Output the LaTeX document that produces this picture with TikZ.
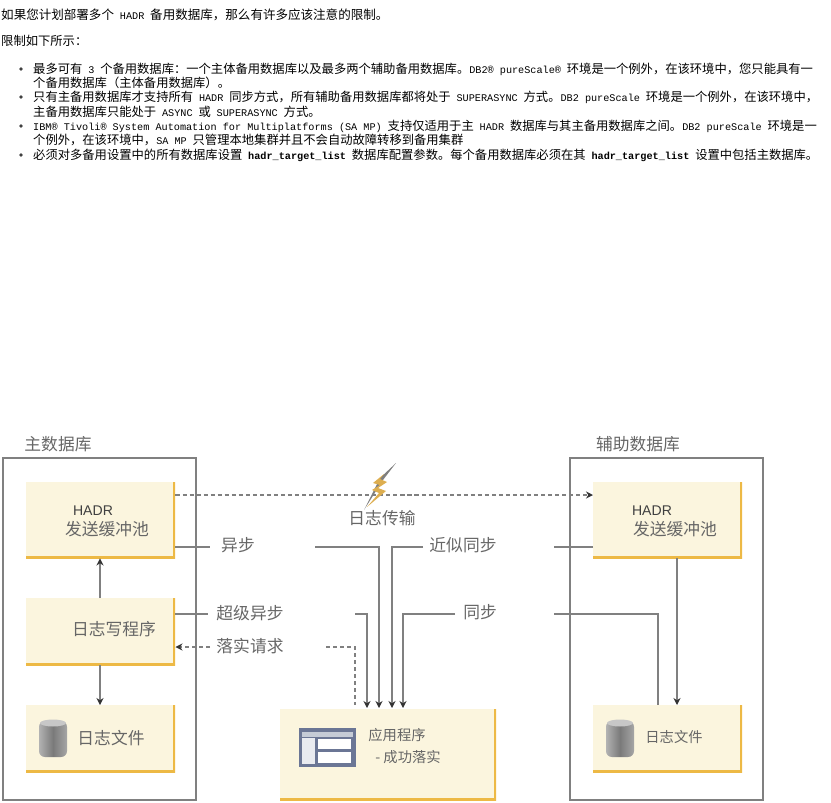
\documentclass[tikz,border=0pt]{standalone}
\usepackage{fontspec}
\setmainfont{Noto Sans CJK SC}
\setmonofont{Liberation Mono}
\setsansfont{Liberation Sans}
\usetikzlibrary{arrows.meta,calc}
\definecolor{boxfill}{HTML}{FBF5DE}
\definecolor{boxedge}{HTML}{EDB945}
\definecolor{linegray}{HTML}{808080}
\definecolor{labelgray}{HTML}{666666}
\definecolor{iconblue}{HTML}{6B7695}
\definecolor{iconbar}{HTML}{C5CBD6}
\definecolor{iconpane}{HTML}{E9EBF0}
\definecolor{boltgold}{HTML}{DDAE50}
\newcommand{\gap}{\hspace{5pt}}
\newcommand{\lat}[1]{{\ttfamily\fontsize{8.7}{8.7}\selectfont #1}}
\newcommand{\latb}[1]{{\ttfamily\bfseries\fontsize{8.7}{8.7}\selectfont #1}}
\tikzset{
  txtline/.style={anchor=west,inner sep=0pt,font=\fontsize{10.5}{10.5}\selectfont},
  dblabel/.style={text=labelgray,inner sep=0pt,font=\fontsize{14.3}{14.3}\selectfont},
  smalllabel/.style={dblabel,font=\fontsize{12.2}{12.2}\selectfont},
  hadrlabel/.style={dblabel,text=black!75,font=\sffamily\fontsize{12}{12}\selectfont},
  dbframe/.style={draw=linegray,line width=1.4pt,anchor=north west,inner sep=0pt},
  logbox/.style={fill=boxfill,anchor=north west,inner sep=0pt,
    path picture={\draw[boxedge,line width=4.5pt]
      (path picture bounding box.south west) -- (path picture bounding box.south east)
      -- (path picture bounding box.north east);}},
  wire/.style={draw=linegray,line width=1.3pt},
  dwire/.style={wire,dash pattern=on 3.5pt off 2.5pt},
  flow/.style={wire,-{Stealth[length=6pt,width=6pt,black!80]}}
}
\newcommand{\logdrum}[2]{%
  \shade[left color=black!30,right color=black!35,middle color=black!52,rounded corners=5pt]
    (#1-14,#2-17) rectangle (#1+14,#2+19);
  \fill[black!22] (#1,#2-15) ellipse (13 and 3.5);
}
\begin{document}
\begin{tikzpicture}[x=0.03cm,y=-0.03cm,>=Stealth]
  \useasboundingbox (0,0) rectangle (831,802);
  % text above the diagram
  \node[txtline,font=\fontsize{10.7}{10.7}\selectfont] (t1) at (1,15) {如果您计划部署多个\gap\lat{HADR}\gap 备用数据库，那么有许多应该注意的限制。};
  \node[txtline] (t2) at (1,41) {限制如下所示：};
  \node[txtline] (l1) at (33,69) {最多可有\gap\lat{3}\gap 个备用数据库：一个主体备用数据库以及最多两个辅助备用数据库。\lat{DB2® pureScale®}\gap 环境是一个例外，在该环境中，您只能具有一};
  \node[txtline] (l1b) at (33,83) {个备用数据库（主体备用数据库）。};
  \node[txtline] (l2) at (33,97) {只有主备用数据库才支持所有\gap\lat{HADR}\gap 同步方式，所有辅助备用数据库都将处于\gap\lat{SUPERASYNC}\gap 方式。\lat{DB2 pureScale}\gap 环境是一个例外，在该环境中，};
  \node[txtline] (l2b) at (33,112) {主备用数据库只能处于\gap\lat{ASYNC}\gap 或\gap\lat{SUPERASYNC}\gap 方式。};
  \node[txtline] (l3) at (33,126) {\lat{IBM® Tivoli® System Automation for Multiplatforms (SA MP)}\gap 支持仅适用于主\gap\lat{HADR}\gap 数据库与其主备用数据库之间。\lat{DB2 pureScale}\gap 环境是一};
  \node[txtline] (l3b) at (33,140) {个例外，在该环境中，\lat{SA MP}\gap 只管理本地集群并且不会自动故障转移到备用集群};
  \node[txtline] (l4) at (33,155) {必须对多备用设置中的所有数据库设置\gap\latb{hadr\_target\_list}\gap 数据库配置参数。每个备用数据库必须在其\gap\latb{hadr\_target\_list}\gap 设置中包括主数据库。};
  \foreach \y in {69,97,126,155}
    \fill[black!75] (21,\y) circle (1.8);

  % frames
  \node[dbframe,minimum width=5.79cm,minimum height=10.26cm] (primary) at (2,457) {};
  \node[dbframe,minimum width=5.79cm,minimum height=10.26cm] (standby) at (569,457) {};
  \node[dblabel] (primarytitle) at (58,444) {主数据库};
  \node[dblabel] (standbytitle) at (638,444) {辅助数据库};

  % boxes
  \node[logbox,minimum width=4.47cm,minimum height=2.28cm] (sendL) at (26,482) {};
  \node[logbox,minimum width=4.47cm,minimum height=2.01cm] (writer) at (26,598) {};
  \node[logbox,minimum width=4.47cm,minimum height=2.01cm] (fileL) at (26,705) {};
  \node[logbox,minimum width=6.48cm,minimum height=2.73cm] (app) at (280,709) {};
  \node[logbox,minimum width=4.47cm,minimum height=2.28cm] (sendR) at (593,482) {};
  \node[logbox,minimum width=4.47cm,minimum height=2.01cm] (fileR) at (593,705) {};

  % box texts
  \node[hadrlabel] (hadrL) at (93,511) {HADR};
  \node[dblabel] (bufL) at (107,529) {发送缓冲池};
  \node[dblabel] (writertxt) at (114,629) {日志写程序};
  \node[dblabel] (fileLtxt) at (111,738) {日志文件};
  \node[hadrlabel] (hadrR) at (652,511) {HADR};
  \node[dblabel] (bufR) at (675,529) {发送缓冲池};
  \node[smalllabel] (fileRtxt) at (674,737) {日志文件};
  \node[smalllabel] (apptxt) at (397,735) {应用程序};
  \node[smalllabel] (appsub) at (408,757) {- 成功落实};

  % connector labels
  \node[dblabel] (shiplbl) at (382,518) {日志传输};
  \node[dblabel] (asynclbl) at (238,545) {异步};
  \node[dblabel] (nearlbl) at (463,545) {近似同步};
  \node[dblabel] (superlbl) at (250,613) {超级异步};
  \node[dblabel] (synclbl) at (480,612) {同步};
  \node[dblabel] (commitlbl) at (250,646) {落实请求};

  % free ends of the wires
  \coordinate (shipy) at (0,495);
  \coordinate (asyncy) at (0,547);
  \coordinate (supery) at (0,614);
  \coordinate (commity) at (0,647);
  \coordinate (asyncout) at (210,547);
  \coordinate (asyncin) at (315,547);
  \coordinate (superout) at (208,614);
  \coordinate (superin) at (355,614);
  \coordinate (commitout) at (210,647);
  \coordinate (commitin) at (326,647);
  \coordinate (nearout) at (554,547);
  \coordinate (nearin) at (423,547);
  \coordinate (syncout) at (554,614);
  \coordinate (syncin) at (455,614);

  % wires
  \draw[dwire,line width=1.7pt,-{Stealth[length=6pt,width=6pt,black!80]}] (sendL.east |- shipy) -- (sendR.west |- shipy);
  \draw[wire] (sendL.east |- asyncy) -- (asyncout);
  \draw[flow] (asyncin) -| (379,708);
  \draw[wire] (sendR.west |- asyncy) -- (nearout);
  \draw[flow] (nearin) -| (392,708);
  \draw[wire] (writer.east |- supery) -- (superout);
  \draw[flow] (superin) -| (367,708);
  \draw[flow] (syncin) -| (403,708);
  \draw[wire] (syncout) -| (658,705);
  \draw[dwire,-{Stealth[length=6pt,width=6pt,black!80]}] (commitout) -- (writer.east |- commity);
  \draw[dwire] (commitin) -| (355,705);
  \draw[flow] (writer.north -| 100,0) -- (sendL.south -| 100,0);
  \draw[flow] (writer.south -| 100,0) -- (fileL.north -| 100,0);
  \draw[flow] (sendR.south -| 677,0) -- (fileR.north -| 677,0);

  % lightning
  \fill[linegray] (396,463) -- (380,478) -- (364,510) -- (383,480) -- cycle;
  \fill[boltgold] (384,474) -- (373,483) -- (380,485) -- (372,490) -- (379,493) -- (367,507) -- (386,491) -- (378,488) -- (387,482) -- (380,479) -- cycle;

  % drums
  \logdrum{53}{738}
  \logdrum{620}{738}

  % application window
  \fill[iconblue] (299,728) rectangle (356,767);
  \fill[iconbar] (302,732) rectangle (353,737);
  \fill[iconpane] (302,738) rectangle (315,764);
  \fill[white] (318,739) rectangle (351,749);
  \fill[white] (318,752) rectangle (351,763);
\end{tikzpicture}
\end{document}
